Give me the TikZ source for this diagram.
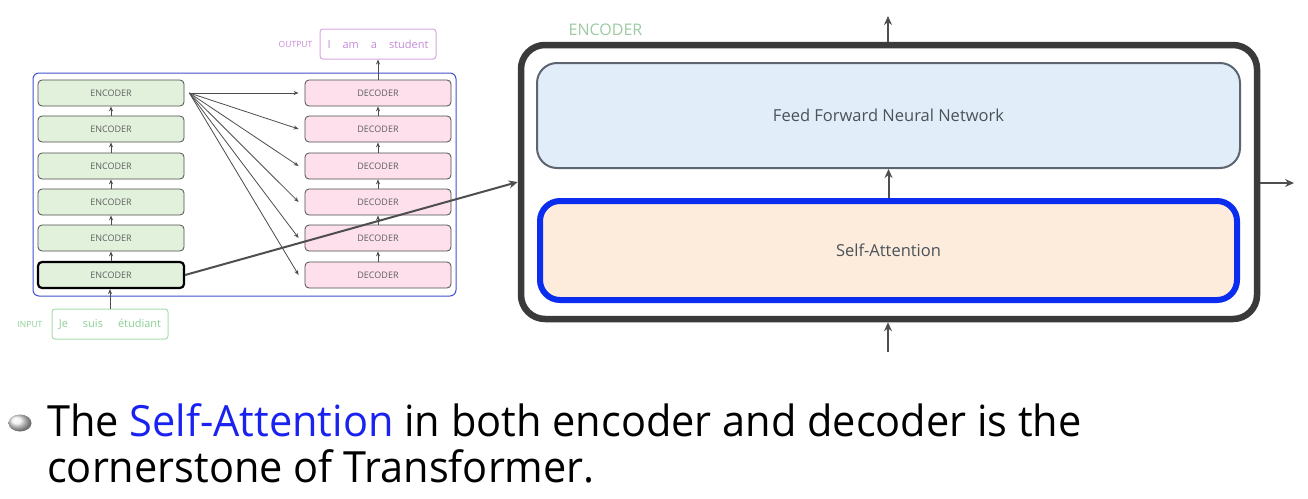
\documentclass[tikz,border=0pt]{standalone}
\usepackage{fontspec}
\setmainfont{Open Sans}
\newfontfamily\bodyfont[FakeStretch=0.965]{Open Sans}
\usetikzlibrary{arrows.meta,calc}
\definecolor{encgreen}{HTML}{E2F1DC}
\definecolor{decpink}{HTML}{FDE0EC}
\definecolor{boxline}{HTML}{4D4D4D}
\definecolor{textgray}{HTML}{5E5E5E}
\definecolor{bigtext}{HTML}{4A525A}
\definecolor{blueframe}{HTML}{4050D0}
\definecolor{outline}{HTML}{D6A8E0}
\definecolor{outtext}{HTML}{C48AD6}
\definecolor{inline}{HTML}{A6DDAC}
\definecolor{intext}{HTML}{8CCF95}
\definecolor{enclabel}{HTML}{9CCAA2}
\definecolor{ffnfill}{HTML}{E1EDF9}
\definecolor{ffnline}{HTML}{5D6570}
\definecolor{safill}{HTML}{FDEBDC}
\definecolor{saline}{HTML}{0A2DF0}
\definecolor{bigline}{HTML}{3A3A3A}
\definecolor{bluetext}{HTML}{1A22F0}
\tikzset{
  encbox/.style={draw=boxline, fill=encgreen, rounded corners=4pt, line width=0.8pt,
    minimum width=146pt, minimum height=26pt, inner sep=0pt, text=textgray,
    font=\fontsize{9}{9}\selectfont},
  decbox/.style={encbox, fill=decpink},
  smallarr/.style={draw=boxline, line width=0.8pt, -{Stealth[length=5pt,width=4pt]}},
  bigarr/.style={draw=bigline!90, line width=2pt, -{Stealth[length=9pt,width=8pt]}},
  wordbox/.style={rounded corners=3pt, line width=1pt, minimum height=30pt, inner sep=0pt,
    font=\fontsize{11}{11}\selectfont},
  sidelabel/.style={font=\fontsize{8.5}{8.5}\selectfont},
}
\begin{document}
\begin{tikzpicture}[x=1pt,y=-1pt]
\useasboundingbox (0,0) rectangle (1308,498);
% left overview
\node[draw=blueframe, line width=1pt, rounded corners=6pt, minimum width=423pt, minimum height=223pt] (frame) at (244.5,184.5) {};
\foreach \i/\y in {1/93,2/129,3/166,4/202,5/238,6/275}{
  \node[decbox] (d\i) at (378,\y) {DECODER};
}
\foreach \i/\y in {1/93,2/129,3/166,4/202,5/238}{
  \node[encbox] (e\i) at (111,\y) {ENCODER};
}
\node[encbox, draw=black, line width=2.2pt] (e6) at (111,275) {ENCODER};
\foreach \a/\b in {2/1,3/2,4/3,5/4,6/5}{
  \draw[smallarr] (e\a.north) -- (e\b.south);
  \draw[smallarr] (d\a.north) -- (d\b.south);
}
\node[wordbox, draw=inline, text=intext, minimum width=116pt] (inp) at (110,324) {Je\hspace{15pt}suis\hspace{15pt}étudiant};
\node[sidelabel, text=intext] (inlab) at (30,325) {INPUT};
\node[wordbox, draw=outline, text=outtext, minimum width=116pt] (outp) at (378,44) {I\hspace{12pt}am\hspace{12pt}a\hspace{12pt}student};
\node[sidelabel, text=outtext] (outlab) at (295.5,44) {OUTPUT};
\draw[smallarr] (inp.north) -- (inp.north |- e6.south);
\draw[smallarr] (d1.north) -- (outp.south);
\coordinate (src) at ($(e1.east)+(5,0)$);
\foreach \i in {1,...,6}{
  \draw[smallarr] (src) -- ([xshift=-6pt]d\i.west);
}
% big encoder
\node[draw=bigline, line width=6.5pt, rounded corners=24pt, minimum width=736pt, minimum height=274pt] (outer) at (889,182) {};
\node[draw=ffnline, fill=ffnfill, line width=2pt, rounded corners=20pt, minimum width=703pt, minimum height=105pt,
  text=bigtext, font=\fontsize{16.5}{16.5}\selectfont] (ffn) at (888.5,115.5) {Feed Forward Neural Network};
\node[draw=saline, fill=safill, line width=6pt, rounded corners=20pt, minimum width=697pt, minimum height=99pt,
  text=bigtext, font=\fontsize{16.5}{16.5}\selectfont] (sa) at (888.5,250.5) {Self-Attention};
\node[text=enclabel, font=\fontsize{16}{16}\selectfont] (enclab) at (605.5,30) {ENCODER};
\draw[bigarr] (e6.east) -- (outer.west);
\draw[bigarr] (sa.north) -- (ffn.south);
\coordinate (topout) at (888,16);
\coordinate (botin) at (888,352);
\coordinate (rout) at (1294,183);
\draw[bigarr] (outer.north -| topout) -- (topout);
\draw[bigarr] (botin) -- (botin |- outer.south);
\draw[bigarr] (outer.east |- rout) -- (rout);
% bullet text
\shade[ball color=gray!12] (20,423) ellipse (11.5 and 8.5);
\node[anchor=base west, inner sep=0pt, font=\bodyfont\fontsize{43}{46}\selectfont] (l1) at (47,436) {The {\color{bluetext}Self-Attention} in both encoder and decoder is the};
\node[anchor=base west, inner sep=0pt, font=\bodyfont\fontsize{43}{46}\selectfont] (l2) at (47,482) {cornerstone of Transformer.};
\end{tikzpicture}
\end{document}
